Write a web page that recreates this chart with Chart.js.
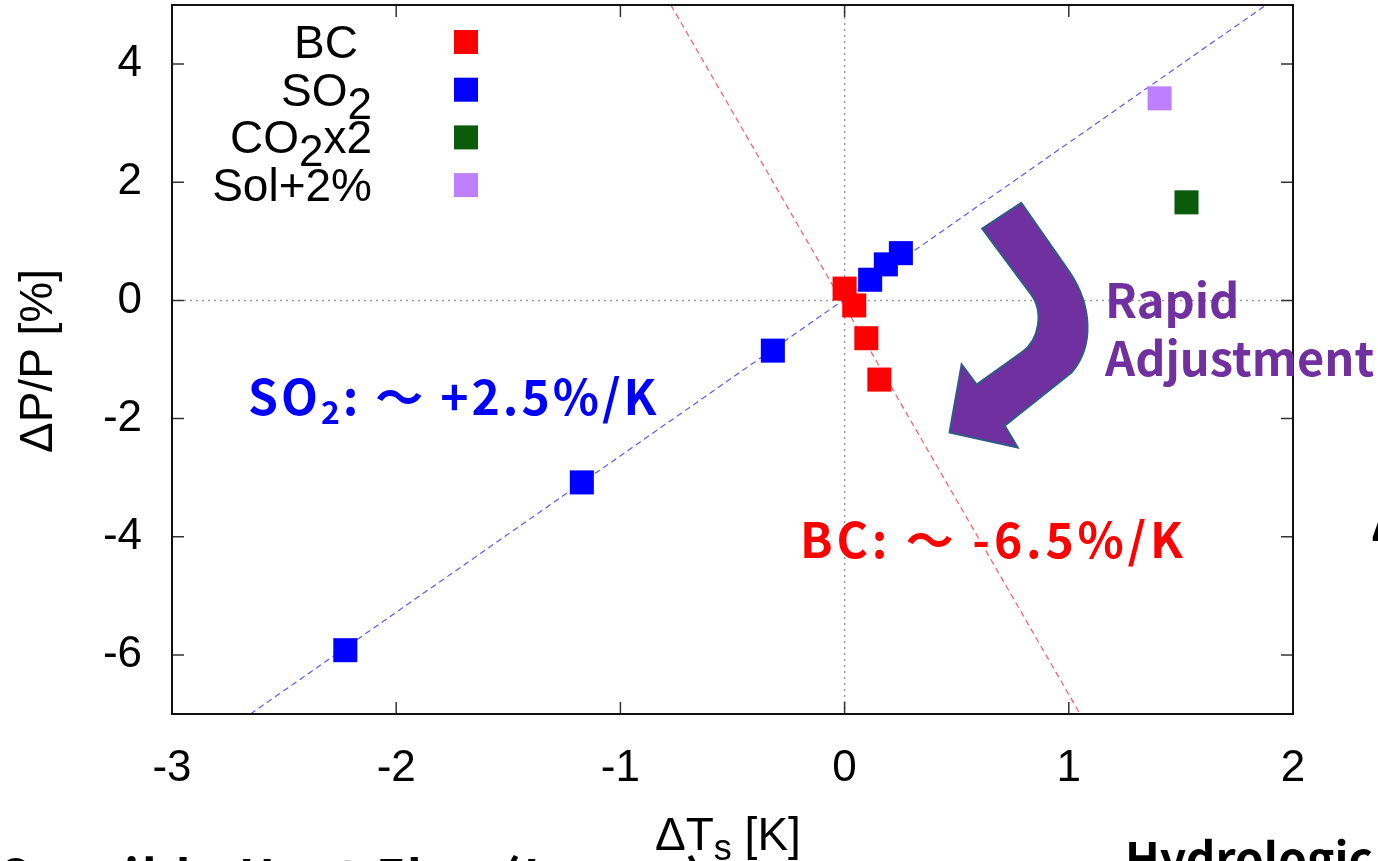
<!DOCTYPE html>
<html>
<head>
<meta charset="utf-8">
<script src="https://cdn.jsdelivr.net/npm/chart.js@4"></script>
<style>
  html, body { margin: 0; padding: 0; background: #fff; overflow: hidden; }
  #wrap { width: 1378px; height: 861px; position: relative; }
</style>
</head>
<body>
<div id="wrap"><canvas id="chart"></canvas></div>
<script>
// ---- data ----
const bcX   = [0.0, 0.043, 0.097, 0.155];
const bcY   = [0.20, -0.085, -0.64, -1.34];
const so2X  = [-2.227, -1.172, -0.32, 0.114, 0.184, 0.251];
const so2Y  = [-5.92, -3.08, -0.85, 0.35, 0.61, 0.80];
const co2X  = [1.525];
const co2Y  = [1.66];
const solX  = [1.405];
const solY  = [3.42];

// fit lines (end points)
const so2FitX = [-2.65, 1.88];
const so2FitY = [-7.0, 5.0];
const bcFitX  = [-0.775, 1.05];
const bcFitY  = [5.0, -7.0];

const xTicks = [-3, -2, -1, 0, 1, 2];
const yTicks = [-6, -4, -2, 0, 2, 4];

const legendItems = [
    { parts: [["BC", 0]], color: "#ff0000", right: 358 },
    { parts: [["SO", 0], ["2", 1]], color: "#0000ff", right: 372 },
    { parts: [["CO", 0], ["2", 1], ["x2", 0]], color: "#0a5c0a", right: 372 },
    { parts: [["Sol+2%", 0]], color: "#bf80ff", right: 372 }
];

const pts = (xs, ys) => xs.map((x, i) => ({ x: x, y: ys[i] }));

// text with subscripts
function partsWidth(ctx, parts, size, subSize, font) {
    let w = 0;
    parts.forEach(([t, sub]) => {
        ctx.font = font.replace("SIZE", sub ? subSize : size);
        w += ctx.measureText(t).width;
    });
    return w;
}
function drawParts(ctx, parts, x, y, size, subSize, subShift, font, align) {
    let w = partsWidth(ctx, parts, size, subSize, font);
    let cx = align === "right" ? x - w : (align === "center" ? x - w / 2 : x);
    ctx.textAlign = "left";
    ctx.textBaseline = "alphabetic";
    parts.forEach(([t, sub]) => {
        ctx.font = font.replace("SIZE", sub ? subSize : size);
        ctx.fillText(t, cx, sub ? y + subShift : y);
        cx += ctx.measureText(t).width;
    });
}

// arrow outline in data units
const arrowPath = [
    ["M", 0.614, 1.215],
    ["L", 0.788, 1.649],
    ["L", 1.004, 0.475],
    ["C", 1.102, -0.085, 1.115, -0.763, 1.012, -1.220],
    ["L", 0.714, -2.119],
    ["L", 0.772, -2.490],
    ["L", 0.468, -2.237],
    ["L", 0.522, -1.085],
    ["L", 0.589, -1.424],
    ["L", 0.789, -0.881],
    ["C", 0.870, -0.678, 0.892, -0.169, 0.825, 0.136],
    ["Z"]
];

const decorPlugin = {
    id: "decor",
    beforeDatasetsDraw(chart) {
        const { ctx, chartArea: a, scales: { x, y } } = chart;
        ctx.save();
        // dotted zero lines
        ctx.strokeStyle = "#9a9a9a";
        ctx.lineWidth = 1.5;
        ctx.setLineDash([2, 4]);
        ctx.beginPath();
        ctx.moveTo(x.getPixelForValue(0), a.top);
        ctx.lineTo(x.getPixelForValue(0), a.bottom);
        ctx.moveTo(a.left, y.getPixelForValue(0));
        ctx.lineTo(a.right, y.getPixelForValue(0));
        ctx.stroke();
        ctx.restore();
    },
    afterDatasetsDraw(chart) {
        const { ctx, chartArea: a, scales: { x, y } } = chart;
        ctx.save();
        // inward ticks
        ctx.strokeStyle = "#333";
        ctx.lineWidth = 1.5;
        ctx.beginPath();
        xTicks.forEach(v => {
            const px = x.getPixelForValue(v);
            ctx.moveTo(px, a.bottom); ctx.lineTo(px, a.bottom - 12);
            ctx.moveTo(px, a.top); ctx.lineTo(px, a.top + 12);
        });
        yTicks.forEach(v => {
            const py = y.getPixelForValue(v);
            ctx.moveTo(a.left, py); ctx.lineTo(a.left + 12, py);
            ctx.moveTo(a.right, py); ctx.lineTo(a.right - 12, py);
        });
        ctx.stroke();
        // frame
        ctx.strokeStyle = "#111";
        ctx.lineWidth = 2;
        ctx.strokeRect(a.left, a.top, a.right - a.left, a.bottom - a.top);

        // legend
        const sans = "SIZEpx 'Liberation Sans', Arial, sans-serif";
        legendItems.forEach((it, i) => {
            const cy = 42 + i * 47.7;
            ctx.fillStyle = "#000";
            drawParts(ctx, it.parts, it.right, cy + 16, 46, 44, 13, sans, "right");
            ctx.fillStyle = it.color;
            ctx.fillRect(454, cy - 12, 24, 24);
        });

        // curved arrow
        ctx.beginPath();
        arrowPath.forEach(s => {
            if (s[0] === "M") ctx.moveTo(x.getPixelForValue(s[1]), y.getPixelForValue(s[2]));
            else if (s[0] === "L") ctx.lineTo(x.getPixelForValue(s[1]), y.getPixelForValue(s[2]));
            else if (s[0] === "C") ctx.bezierCurveTo(
                x.getPixelForValue(s[1]), y.getPixelForValue(s[2]),
                x.getPixelForValue(s[3]), y.getPixelForValue(s[4]),
                x.getPixelForValue(s[5]), y.getPixelForValue(s[6]));
            else ctx.closePath();
        });
        ctx.fillStyle = "#7030a0";
        ctx.fill();
        ctx.strokeStyle = "#2f5a8a";
        ctx.lineWidth = 2;
        ctx.stroke();

        // annotations
        const jp = "bold SIZEpx 'Noto Sans CJK JP', 'Noto Sans', sans-serif";
        ctx.letterSpacing = "3px";
        ctx.fillStyle = "#0000ff";
        drawParts(ctx, [["SO", 0], ["2", 1], [": ～ +2.5%/K", 0]], 248, 415, 48, 32, 9, jp, "left");
        ctx.letterSpacing = "3.8px";
        ctx.fillStyle = "#ff0000";
        drawParts(ctx, [["BC: ～ -6.5%/K", 0]], 800, 558, 48, 32, 9, jp, "left");
        ctx.letterSpacing = "0px";
        ctx.fillStyle = "#7030a0";
        drawParts(ctx, [["Rapid", 0]], 1105, 318, 47, 32, 9, jp, "left");
        drawParts(ctx, [["Adjustment", 0]], 1105, 376, 47, 32, 9, jp, "left");

        // axis titles
        ctx.fillStyle = "#000";
        drawParts(ctx, [["ΔT", 0], ["s", 1], [" [K]", 0]], 655, 850, 46, 36, 10, sans, "left");
        ctx.save();
        ctx.translate(52, 361);
        ctx.rotate(-Math.PI / 2);
        drawParts(ctx, [["ΔP/P [%]", 0]], 0, 0, 46, 30, 8, sans, "center");
        ctx.restore();

        // text cut off by the edge of the slide
        ctx.fillStyle = "#000";
        ctx.font = "bold 46px 'Noto Sans CJK JP', 'Noto Sans', sans-serif";
        ctx.fillText("Hydrologic", 1125, 876);
        ctx.fillText("Δ", 1371, 541);
        ctx.letterSpacing = "3px";
        ctx.font = "bold 48px 'Noto Sans CJK JP', 'Noto Sans', sans-serif";
        ctx.fillText("Sensible Heat Flux (Lower)", 0, 895);
        ctx.restore();
    }
};

new Chart(document.getElementById("chart"), {
    type: "scatter",
    data: {
        datasets: [
            {
                label: "SO2 fit", data: pts(so2FitX, so2FitY), showLine: true,
                borderColor: "rgba(60, 60, 255, 0.85)", borderWidth: 1.2, borderDash: [6, 4],
                pointRadius: 0, order: 5
            },
            {
                label: "BC fit", data: pts(bcFitX, bcFitY), showLine: true,
                borderColor: "rgba(255, 60, 60, 0.85)", borderWidth: 1.2, borderDash: [6, 4],
                pointRadius: 0, order: 5
            },
            { label: "BC", data: pts(bcX, bcY), pointStyle: "rect", pointRadius: 17, backgroundColor: "#ff0000", borderWidth: 0, order: 2 },
            { label: "SO2", data: pts(so2X, so2Y), pointStyle: "rect", pointRadius: 17, backgroundColor: "#0000ff", borderWidth: 0, order: 1 },
            { label: "CO2x2", data: pts(co2X, co2Y), pointStyle: "rect", pointRadius: 17, backgroundColor: "#0a5c0a", borderWidth: 0, order: 1 },
            { label: "Sol+2%", data: pts(solX, solY), pointStyle: "rect", pointRadius: 17, backgroundColor: "#bf80ff", borderWidth: 0, order: 1 }
        ]
    },
    options: {
        responsive: true,
        maintainAspectRatio: false,
        animation: false,
        layout: { autoPadding: false, padding: { top: 5, right: 85, left: 0, bottom: 0 } },
        scales: {
            x: {
                type: "linear", min: -3, max: 2,
                afterBuildTicks: s => { s.ticks = xTicks.map(v => ({ value: v })); },
                afterFit: s => { s.height = 147; s.paddingLeft = 0; s.paddingRight = 0; },
                grid: { display: false, drawTicks: false },
                border: { display: false },
                ticks: {
                    color: "#000", padding: 28,
                    font: { family: "'Liberation Sans', Arial, sans-serif", size: 44 }
                }
            },
            y: {
                type: "linear", min: -7, max: 5,
                afterBuildTicks: s => { s.ticks = yTicks.map(v => ({ value: v })); },
                afterFit: s => { s.width = 172; s.paddingTop = 0; s.paddingBottom = 0; },
                grid: { display: false, drawTicks: false },
                border: { display: false },
                ticks: {
                    color: "#000", padding: 30,
                    font: { family: "'Liberation Sans', Arial, sans-serif", size: 44 }
                }
            }
        },
        plugins: {
            legend: { display: false },
            tooltip: { enabled: false }
        }
    },
    plugins: [decorPlugin]
});
</script>
</body>
</html>
